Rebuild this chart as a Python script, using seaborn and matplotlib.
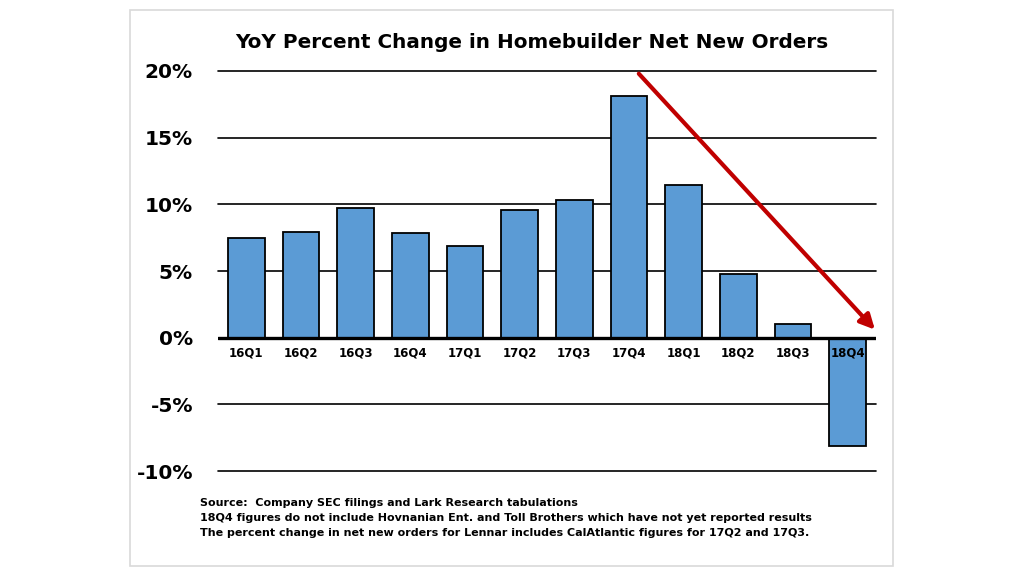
import pandas as pd
import matplotlib
matplotlib.use("Agg")
import matplotlib.pyplot as plt
import seaborn as sns
from matplotlib.patches import Rectangle

# data
quarters = ["16Q1", "16Q2", "16Q3", "16Q4", "17Q1", "17Q2",
            "17Q3", "17Q4", "18Q1", "18Q2", "18Q3", "18Q4"]
yoy_change = [7.5, 7.9, 9.75, 7.85, 6.9, 9.6,
              10.3, 18.1, 11.45, 4.75, 1.0, -8.1]
y_ticks = [-10, -5, 0, 5, 10, 15, 20]
notes = [
    "Source:  Company SEC filings and Lark Research tabulations",
    "18Q4 figures do not include Hovnanian Ent. and Toll Brothers which have not yet reported results",
    "The percent change in net new orders for Lennar includes CalAtlantic figures for 17Q2 and 17Q3.",
]

df = pd.DataFrame({"Quarter": quarters, "Change": yoy_change})

sns.set_style("white")
plt.rcParams["font.family"] = ["DejaVu Sans"]
plt.rcParams["text.color"] = "black"
plt.rcParams["ytick.color"] = "black"

fig = plt.figure(figsize=(10.24, 5.76), dpi=100)
fig.patch.set_facecolor("white")
# light grey frame around the slide
fig.add_artist(Rectangle((130 / 1024, 10 / 576), 763 / 1024, 556 / 576,
                         transform=fig.transFigure, fill=False,
                         edgecolor="#d9d9d9", linewidth=1.2))

ax = fig.add_axes([218 / 1024, 1 - 471 / 576, 658 / 1024, 400 / 576])
sns.barplot(data=df, x="Quarter", y="Change", color="#5B9BD5",
            saturation=1, edgecolor="black", linewidth=1.3, width=0.67,
            ax=ax, zorder=2)

# grid lines
for t in y_ticks:
    if t != 0:
        ax.axhline(t, color="black", linewidth=1.2, zorder=0, clip_on=False)
ax.axhline(0, color="black", linewidth=2.4, zorder=3)

ax.set_xlim(-0.52, 11.52)
ax.set_ylim(-10, 20)
ax.set_yticks(y_ticks)
ax.set_yticklabels([f"{t}%" for t in y_ticks], fontsize=14.5,
                   fontweight="bold", color="black")
ax.tick_params(axis="y", length=0, pad=18)

ax.set_xticks(range(len(quarters)))
ax.set_xticklabels([])
ax.tick_params(axis="x", length=0)
for i, q in enumerate(quarters):
    ax.text(i, -0.65, q, ha="center", va="top", fontsize=8.5,
            fontweight="bold", color="black", zorder=5)

ax.set_xlabel("")
ax.set_ylabel("")
for s in ax.spines.values():
    s.set_visible(False)

ax.annotate("", xy=(11.5, 0.6), xytext=(7.18, 19.8),
            arrowprops=dict(arrowstyle="-|>", color="#C00000", lw=3,
                            mutation_scale=22, shrinkA=0, shrinkB=0),
            zorder=6, annotation_clip=False)

fig.text(532 / 1024, 1 - 43 / 576, "YoY Percent Change in Homebuilder Net New Orders",
         ha="center", va="center", fontsize=14.4, fontweight="bold", color="black")

for k, line in enumerate(notes):
    fig.text(200 / 1024, 1 - (503 + 15 * k) / 576, line, ha="left", va="center",
             fontsize=8, fontweight="bold", color="black")

fig.savefig("out.png", dpi=100)
